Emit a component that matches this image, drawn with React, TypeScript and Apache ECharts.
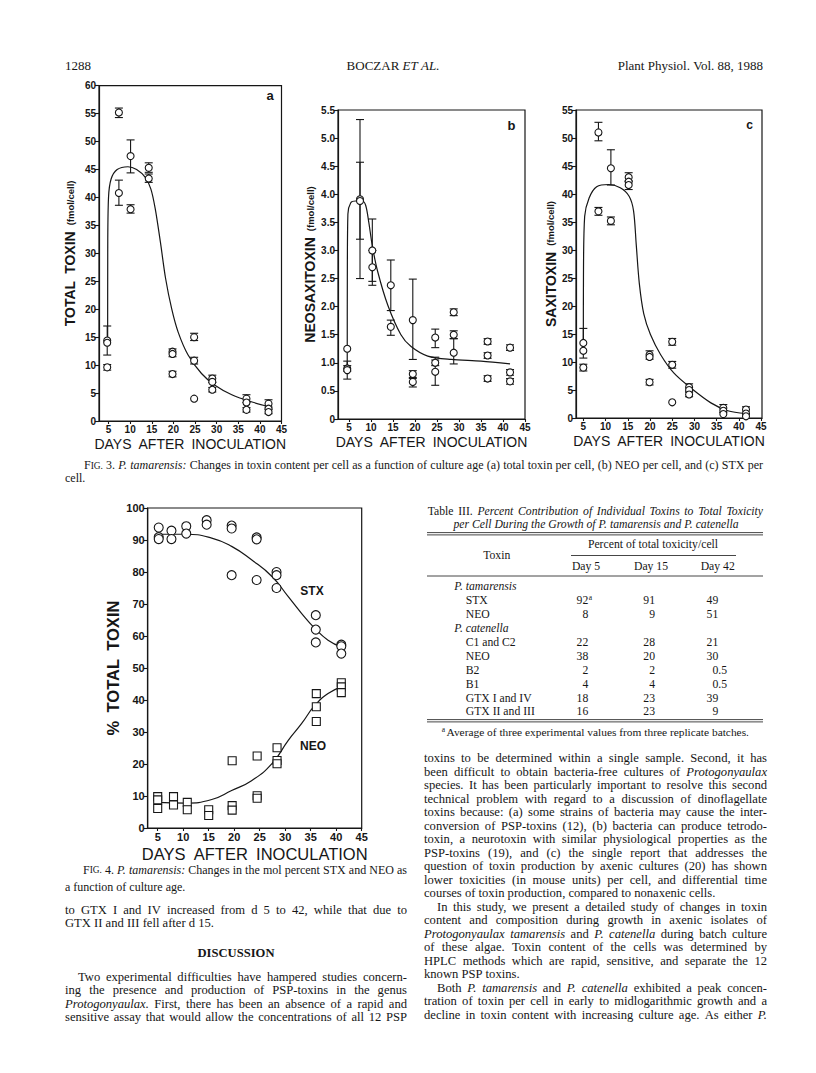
import React, { useEffect, useRef } from "react";
import * as echarts from "echarts";

// ---------------- DATA ----------------
const DAY_TICKS = [5, 10, 15, 20, 25, 30, 35, 40, 45];

// Fig. 3a  total toxin (fmol/cell)
const A_POINTS = [
  [4.7, 14.4], [4.7, 14.0], [4.7, 9.6], [7.4, 55.2], [7.4, 40.8], [10.1, 47.4], [10.1, 37.9],
  [14.3, 45.3], [14.3, 43.4], [19.8, 12.4], [19.8, 12.0], [19.8, 8.4], [24.8, 15.0], [24.8, 10.8],
  [24.8, 4.0], [29, 7.6], [29, 7.0], [29, 5.6], [36.9, 4.0], [36.9, 3.3], [36.9, 2.0],
  [42, 3.1], [42, 2.2], [42, 1.6],
];
const A_ERRORS = [
  [4.7, 11.8, 17.0], [4.7, 9.1, 10.1], [7.4, 54.3, 56.0], [7.4, 38.6, 43.1], [10.1, 44.4, 50.3],
  [10.1, 37.2, 38.7], [14.3, 44.5, 46.2], [14.3, 42.7, 44.2], [19.8, 11.5, 12.9], [19.8, 7.9, 8.9],
  [24.8, 14.4, 15.7], [24.8, 10.2, 11.4], [29, 6.9, 8.2], [29, 5.2, 6.0], [36.9, 3.3, 4.7],
  [36.9, 1.6, 2.4], [42, 2.5, 3.8], [42, 1.3, 2.1],
];
const A_CURVE = [
  [4.8, 14], [4.82, 30], [5.0, 40], [5.6, 43.3], [7, 45], [9.5, 45.5], [11.5, 45], [13.5, 43.6],
  [14.8, 41.5], [15.8, 38], [17, 32], [18.2, 25.5], [19.6, 20.1], [21.1, 15.9], [23.4, 11.8],
  [26.5, 8.5], [29.6, 6.4], [33.5, 4.7], [38.2, 3.4], [42.4, 2.5],
];

// Fig. 3b  neosaxitoxin (fmol/cell)
const B_POINTS = [
  [4.6, 1.25], [4.6, 0.9], [4.6, 0.87], [7.5, 3.91], [7.5, 3.88], [10.3, 3.0], [10.3, 2.7],
  [14.5, 2.38], [14.5, 1.64], [19.5, 1.76], [19.5, 0.8], [19.5, 0.66], [24.6, 1.45], [24.6, 1.0],
  [24.6, 0.84], [28.8, 1.9], [28.8, 1.5], [28.8, 1.18], [36.5, 1.38], [36.5, 1.13], [36.5, 0.72],
  [41.6, 1.27], [41.6, 0.83], [41.6, 0.67],
];
const B_ERRORS = [
  [4.6, 0.71, 1.03], [4.6, 0.85, 0.95], [7.5, 2.5, 5.33], [7.5, 3.2, 4.57], [10.3, 2.45, 3.56],
  [10.3, 2.38, 3.0], [14.5, 1.93, 2.83], [14.5, 1.49, 1.76], [19.5, 1.06, 2.49], [19.5, 0.74, 0.86],
  [19.5, 0.57, 0.72], [24.6, 1.27, 1.6], [24.6, 0.6, 1.1], [24.6, 0.95, 1.05], [28.8, 0.98, 1.43],
  [28.8, 1.43, 1.57], [28.8, 1.84, 1.96], [36.5, 1.33, 1.43], [36.5, 1.08, 1.18], [36.5, 0.67, 0.77],
  [41.6, 1.22, 1.32], [41.6, 0.78, 0.88], [41.6, 0.62, 0.72],
];
const B_CURVE = [
  [4.6, 0.95], [4.62, 2.5], [4.75, 3.65], [5.4, 3.85], [6.5, 3.88], [8, 3.88], [8.8, 3.8], [9.5, 3.5],
  [10.3, 3.08], [11.5, 2.63], [13.8, 2.03], [16.8, 1.5], [19.1, 1.29], [22.9, 1.12], [28.2, 1.06],
  [35, 1.03], [41.6, 0.98],
];

// Fig. 3c  saxitoxin (fmol/cell)
const C_POINTS = [
  [5, 13.4], [5, 12.0], [5, 9.0], [8.4, 51.0], [8.4, 36.9], [11.2, 44.6], [11.2, 35.2],
  [15.2, 43.0], [15.2, 42.2], [15.2, 41.6], [19.9, 11.3], [19.9, 10.9], [19.9, 6.4], [25, 13.6],
  [25, 9.5], [25, 2.8], [28.8, 5.5], [28.8, 5.0], [28.8, 4.2], [36.5, 1.8], [36.5, 1.3], [36.5, 0.7],
  [41.6, 1.5], [41.6, 0.8], [41.6, 0.3],
];
const C_ERRORS = [
  [5, 10.7, 16.0], [5, 8.4, 9.6], [8.4, 49.5, 52.8], [8.4, 36.2, 37.6], [11.2, 41.6, 47.9],
  [11.2, 34.5, 35.9], [15.2, 42.3, 43.8], [15.2, 40.8, 42.3], [19.9, 10.5, 12.0], [19.9, 5.9, 6.9],
  [25, 13.0, 14.2], [25, 8.9, 10.1], [28.8, 4.8, 6.1], [28.8, 3.8, 4.6], [36.5, 1.0, 2.4],
  [41.6, 0.6, 2.0],
];
const C_CURVE = [
  [5, 12], [5.03, 25], [5.3, 36], [6.3, 39.3], [8, 41.3], [10.7, 41.7], [13.3, 41.1], [15.3, 39.6],
  [16.3, 37], [16.9, 31], [17.6, 24], [18.6, 18.6], [20.1, 14.9], [22.4, 11.3], [25.4, 8.0],
  [29.2, 5.35], [33.7, 2.7], [37.5, 1.3], [41.6, 0.8],
];

// Fig. 4  % total toxin
const STX_POINTS = [
  [5.2, 93.9], [5.2, 90.9], [5.2, 90.3], [7.7, 92.9], [7.7, 90.3], [10.6, 94.3], [10.6, 92.0],
  [14.6, 96.2], [14.6, 94.8], [19.5, 94.5], [19.5, 93.6], [19.5, 79.0], [24.4, 90.8], [24.4, 90.2],
  [24.4, 77.5], [28.3, 80.0], [28.3, 79.0], [28.3, 75.0], [36.0, 66.5], [36.0, 62.0], [36.0, 58.0],
  [41.0, 57.3], [41.0, 56.8], [41.0, 54.5],
];
const NEO_POINTS = [
  [5.0, 9.8], [5.0, 8.8], [5.0, 6.1], [8.1, 9.8], [8.1, 7.2], [10.8, 8.0], [10.8, 5.7],
  [15.0, 5.7], [15.0, 3.9], [19.6, 21.0], [19.6, 7.0], [19.6, 5.6], [24.5, 22.5], [24.5, 10.1],
  [24.5, 9.3], [28.4, 25.1], [28.4, 21.1], [28.4, 20.1], [36.1, 42.0], [36.1, 37.9], [36.1, 33.3],
  [41.0, 45.4], [41.0, 44.1], [41.0, 42.3],
];
const STX_CURVE = [
  [5, 91.8], [10.4, 91.8], [15.6, 90.6], [19.5, 88], [23.4, 83.8], [27.4, 78.6], [30.6, 72.3],
  [33.2, 67.1], [35.8, 62.4], [38.4, 58.7], [41, 56.6],
];
const NEO_CURVE = [
  [5, 8], [10.4, 7.8], [15.6, 8.9], [19.5, 11.7], [23.4, 14.8], [27.4, 20.1], [30.6, 27.4],
  [33.2, 32.6], [35.8, 38.3], [38.4, 42], [41, 44.1],
];

// Table III
const TABLE_TOXINS = ["STX", "NEO", "C1 and C2", "NEO", "B2", "B1", "GTX I and IV", "GTX II and III"];
const TABLE_DAY5 = ["92", "8", "22", "38", "2", "4", "18", "16"];
const TABLE_DAY15 = ["91", "9", "28", "20", "2", "4", "23", "23"];
const TABLE_DAY42 = ["49", "51", "21", "30", "0.5", "0.5", "39", "9"];

// Text ( _ = italic, § = small caps, > = indent, ¶ = last line of paragraph )
const FIG3_CAPTION = [
  "§FIG. 3. _P. _tamarensis: Changes in toxin content per cell as a function of culture age (a) total toxin per cell, (b) NEO per cell, and (c) STX per",
  "cell.¶",
];
const FIG4_CAPTION = [
  "§FIG. 4. _P. _tamarensis: Changes in the mol percent STX and NEO as",
  "a function of culture age.¶",
];
const LEFT_TEXT = [
  "to GTX I and IV increased from d 5 to 42, while that due to",
  "GTX II and III fell after d 15.¶",
];
const LEFT_TEXT2 = [
  ">Two experimental difficulties have hampered studies concern-",
  "ing the presence and production of PSP-toxins in the genus",
  "_Protogonyaulax. First, there has been an absence of a rapid and",
  "sensitive assay that would allow the concentrations of all 12 PSP",
];
const RIGHT_TEXT = [
  "toxins to be determined within a single sample. Second, it has",
  "been difficult to obtain bacteria-free cultures of _Protogonyaulax",
  "species. It has been particularly important to resolve this second",
  "technical problem with regard to a discussion of dinoflagellate",
  "toxins because: (a) some strains of bacteria may cause the inter-",
  "conversion of PSP-toxins (12), (b) bacteria can produce tetrodo-",
  "toxin, a neurotoxin with similar physiological properties as the",
  "PSP-toxins (19), and (c) the single report that addresses the",
  "question of toxin production by axenic cultures (20) has shown",
  "lower toxicities (in mouse units) per cell, and differential time",
  "courses of toxin production, compared to nonaxenic cells.¶",
  ">In this study, we present a detailed study of changes in toxin",
  "content and composition during growth in axenic isolates of",
  "_Protogonyaulax _tamarensis and _P. _catenella during batch culture",
  "of these algae. Toxin content of the cells was determined by",
  "HPLC methods which are rapid, sensitive, and separate the 12",
  "known PSP toxins.¶",
  ">Both _P. _tamarensis and _P. _catenella exhibited a peak concen-",
  "tration of toxin per cell in early to midlogarithmic growth and a",
  "decline in toxin content with increasing culture age. As either _P.",
];

// ---------------- HELPERS ----------------
const SERIF = "Liberation Serif";
const SANS = "Liberation Sans";
const INK = "#161616";

let _ctx: CanvasRenderingContext2D | null = null;
function measure(text: string, size: number, italic = false, bold = false, family = SERIF): number {
  if (!_ctx) _ctx = document.createElement("canvas").getContext("2d");
  if (!_ctx) return text.length * size * 0.45;
  _ctx.font = `${italic ? "italic " : ""}${bold ? "bold " : ""}${size}px "${family}"`;
  return _ctx.measureText(text).width;
}

type Run = { t: string; s: number; i?: boolean; b?: boolean; dy?: number };

function tokRuns(tok: string, size: number): Run[] {
  if (tok[0] === "§") {
    const w = tok.slice(1);
    return [{ t: w[0], s: size }, { t: w.slice(1), s: size * 0.78, dy: size * 0.08 }];
  }
  if (tok[0] === "_") return [{ t: tok.slice(1), s: size, i: true }];
  if (tok[0] === "*") return [{ t: tok.slice(1), s: size, b: true }];
  return [{ t: tok, s: size }];
}

function textEl(t: string, x: number, y: number, size: number, italic = false, bold = false, family = SERIF, align = "left") {
  return {
    type: "text",
    x,
    y,
    silent: true,
    style: {
      text: t,
      fill: INK,
      fontSize: size,
      fontFamily: family,
      fontStyle: italic ? "italic" : "normal",
      fontWeight: bold ? "bold" : "normal",
      align,
      verticalAlign: "middle",
      textAlign: align,
      textVerticalAlign: "middle",
    },
  };
}

function layoutLine(els: any[], line: string, x: number, y: number, width: number, size: number, mode: string) {
  const toks = line.split(" ").filter(Boolean);
  const words = toks.map((t) => tokRuns(t, size));
  const widths = words.map((rs) => rs.reduce((s, r) => s + measure(r.t, r.s, r.i, r.b), 0));
  const sum = widths.reduce((a, b) => a + b, 0);
  const sp = measure(" ", size);
  let gap = sp;
  if (mode === "j" && toks.length > 1) gap = Math.max(sp * 0.5, (width - sum) / (toks.length - 1));
  const total = sum + gap * (toks.length - 1);
  let cx = mode === "c" ? x - total / 2 : mode === "r" ? x - total : x;
  words.forEach((rs, k) => {
    let rx = cx;
    rs.forEach((r) => {
      els.push(textEl(r.t, rx, y + (r.dy || 0), r.s, r.i, r.b));
      rx += measure(r.t, r.s, r.i, r.b);
    });
    cx += widths[k] + gap;
  });
}

function paragraph(els: any[], lines: string[], x: number, y0: number, step: number, width: number, size: number, indent: number) {
  lines.forEach((raw, k) => {
    let line = raw;
    let ix = 0;
    let mode = "j";
    if (line.startsWith(">")) {
      line = line.slice(1);
      ix = indent;
    }
    if (line.endsWith("¶")) {
      line = line.slice(0, -1);
      mode = "l";
    }
    layoutLine(els, line, x + ix, y0 + k * step, width - ix, size, mode);
  });
}

function hline(x1: number, x2: number, y: number, w = 0.9) {
  return { type: "line", silent: true, shape: { x1, y1: y, x2, y2: y }, style: { stroke: INK, lineWidth: w } };
}

function buildGraphics(): any[] {
  const els: any[] = [];
  // running header
  els.push(textEl("1288", 65, 65, 13));
  layoutLine(els, "BOCZAR _ET _AL.", 393, 65, 0, 13, "c");
  layoutLine(els, "Plant Physiol. Vol. 88, 1988", 763, 65, 0, 13, "r");

  // panel letters & curve labels
  els.push(textEl("a", 270, 95, 13, false, true, SANS, "center"));
  els.push(textEl("b", 511.5, 125, 13, false, true, SANS, "center"));
  els.push(textEl("c", 749.5, 125, 12, false, true, SANS, "center"));
  els.push(textEl("STX", 312, 591, 12, false, true, SANS, "center"));
  els.push(textEl("NEO", 313, 746, 12, false, true, SANS, "center"));

  // captions
  const cfs = 12;
  layoutLine(els, FIG3_CAPTION[0], 84, 465, 763 - 84, cfs, "j");
  layoutLine(els, FIG3_CAPTION[1].replace("¶", ""), 65, 477.5, 0, cfs, "l");
  layoutLine(els, FIG4_CAPTION[0], 83, 869.5, 407 - 83, cfs, "j");
  layoutLine(els, FIG4_CAPTION[1].replace("¶", ""), 65, 886.5, 0, cfs, "l");

  // left column text
  paragraph(els, LEFT_TEXT, 65, 910, 13.4, 342, 12.6, 13);
  els.push(textEl("DISCUSSION", 236, 953.3, 12.6, false, true, SERIF, "center"));
  paragraph(els, LEFT_TEXT2, 65, 976.7, 13.4, 342, 12.6, 13);

  // right column text
  paragraph(els, RIGHT_TEXT, 424, 758, 13.5, 343, 12.6, 13);

  // Table III
  const tfs = 11.7;
  layoutLine(els, "Table III. _Percent _Contribution _of _Individual _Toxins _to _Total _Toxicity", 427.7, 511.7, 335.3, tfs, "j");
  layoutLine(els, "_per _Cell _During _the _Growth _of _P. _tamarensis _and _P. _catenella", 596, 524.5, 0, tfs, "c");
  els.push(hline(427, 763, 532.6, 0.8));
  els.push(hline(427, 763, 534.9, 0.8));
  layoutLine(els, "Percent of total toxicity/cell", 653, 544.3, 0, tfs, "c");
  els.push(hline(571, 736, 555.5, 0.8));
  layoutLine(els, "Toxin", 496.7, 555, 0, tfs, "c");
  layoutLine(els, "Day 5", 586, 566.7, 0, tfs, "c");
  layoutLine(els, "Day 15", 651, 566.7, 0, tfs, "c");
  layoutLine(els, "Day 42", 717.7, 566.7, 0, tfs, "c");
  els.push(hline(427, 763, 576, 0.8));
  layoutLine(els, "_P. _tamarensis", 454.3, 586.7, 0, tfs, "l");
  layoutLine(els, "_P. _catenella", 454.3, 628.3, 0, tfs, "l");
  const rowY = [600, 614.3, 642.7, 656.7, 670.7, 684.3, 698.3, 711.7];
  const colR = [588.3, 655, 718.3];
  TABLE_TOXINS.forEach((name, k) => {
    layoutLine(els, name, 465.7, rowY[k], 0, tfs, "l");
    [TABLE_DAY5[k], TABLE_DAY15[k], TABLE_DAY42[k]].forEach((v, c) => {
      const intPart = v.split(".")[0];
      const x = colR[c] - measure(intPart, tfs);
      els.push(textEl(v, x, rowY[k], tfs));
    });
  });
  els.push(textEl("a", 588.8, 597, 7.5));
  els.push(hline(427, 763, 719.6, 0.8));
  els.push(hline(427, 763, 721.9, 0.8));
  els.push(textEl("a", 441.7, 729, 7.5));
  layoutLine(els, "Average of three experimental values from three replicate batches.", 446.5, 731.7, 0, 11.4, "l");
  return els;
}

// ---------------- CHART PIECES ----------------
const axisFont = { fontFamily: SANS, fontWeight: "bold" as const, color: INK };

function xAxis(grid: number, min: number, max: number, size: number, gap: number, nameSize: number) {
  return {
    type: "value",
    gridIndex: grid,
    min,
    max,
    name: "DAYS\u2002AFTER\u2002INOCULATION",
    nameLocation: "middle",
    nameGap: gap,
    nameTextStyle: { fontFamily: SANS, fontSize: nameSize, color: INK },
    axisLine: { onZero: false, lineStyle: { color: INK, width: 1.2 } },
    axisTick: { customValues: DAY_TICKS, length: 3, lineStyle: { color: INK, width: 1.1 } },
    axisLabel: { customValues: DAY_TICKS, margin: 3, fontSize: size, ...axisFont },
    splitLine: { show: false },
  };
}

function yAxis(grid: number, max: number, interval: number, size: number, name: string, rich: any, gap: number, fmt?: (v: number) => string) {
  return {
    type: "value",
    gridIndex: grid,
    min: 0,
    max,
    interval,
    name,
    nameLocation: "middle",
    nameGap: gap,
    nameRotate: 90,
    nameTextStyle: { rich },
    axisLine: { onZero: false, lineStyle: { color: INK, width: 1.2 } },
    axisTick: { length: 4, lineStyle: { color: INK, width: 1.1 } },
    axisLabel: { margin: 3, fontSize: size, ...axisFont, formatter: fmt },
    splitLine: { show: false },
  };
}

function errSeries(idx: number, data: number[][]) {
  return {
    type: "custom",
    xAxisIndex: idx,
    yAxisIndex: idx,
    data,
    z: 3,
    silent: true,
    encode: { x: 0, y: [1, 2] },
    renderItem: (_p: any, api: any) => {
      const x = api.value(0);
      const a = api.coord([x, api.value(1)]);
      const b = api.coord([x, api.value(2)]);
      const cw = 4;
      const st = { stroke: INK, lineWidth: 1.1, fill: "none" };
      return {
        type: "group",
        children: [
          { type: "line", shape: { x1: a[0], y1: a[1], x2: b[0], y2: b[1] }, style: st },
          { type: "line", shape: { x1: a[0] - cw, y1: a[1], x2: a[0] + cw, y2: a[1] }, style: st },
          { type: "line", shape: { x1: b[0] - cw, y1: b[1], x2: b[0] + cw, y2: b[1] }, style: st },
        ],
      };
    },
  };
}

function pts(idx: number, data: number[][], symbol: string, size: number) {
  return {
    type: "scatter",
    xAxisIndex: idx,
    yAxisIndex: idx,
    data,
    symbol,
    symbolSize: size,
    silent: true,
    z: 4,
    itemStyle: { color: "#fff", borderColor: INK, borderWidth: 1.1, opacity: 1 },
  };
}

function curve(idx: number, data: number[][], smooth: number) {
  return {
    type: "line",
    xAxisIndex: idx,
    yAxisIndex: idx,
    data,
    showSymbol: false,
    symbol: "none",
    smooth,
    silent: true,
    z: 2,
    lineStyle: { color: INK, width: 1.2 },
  };
}

function buildOption() {
  const grid = (left: number, top: number, width: number, height: number) => ({
    left,
    top,
    width,
    height,
    show: true,
    borderColor: INK,
    borderWidth: 1.2,
    backgroundColor: "transparent",
  });
  const rich = (big: number, small: number) => ({
    m: { fontFamily: SANS, fontWeight: "bold", fontSize: big, color: INK },
    s: { fontFamily: SANS, fontWeight: "bold", fontSize: small, color: INK },
  });
  return {
    animation: false,
    backgroundColor: "#fff",
    grid: [
      grid(99, 85.7, 182.5, 335.3),
      grid(338, 110, 187, 309),
      grid(576, 110, 186, 308),
      grid(147.7, 508, 214, 320),
    ],
    xAxis: [
      xAxis(0, 2.8, 45, 10, 16, 14),
      xAxis(1, 2.5, 45, 10, 16, 14),
      xAxis(2, 3.35, 45.2, 10, 16, 14),
      xAxis(3, 3.04, 45, 11, 17, 16.5),
    ],
    yAxis: [
      yAxis(0, 60, 5, 10, "{m|TOTAL\u2002TOXIN}\u2002{s|(fmol/cell)}", rich(14, 9.5), 22),
      yAxis(1, 5.5, 0.5, 10, "{m|NEOSAXITOXIN}\u2002{s|(fmol/cell)}", rich(14, 9.5), 16, (v: number) => (v === 0 ? "0" : v.toFixed(1))),
      yAxis(2, 55, 5, 10, "{m|SAXITOXIN}\u2002{s|(fmol/cell)}", rich(14, 9.5), 18),
      yAxis(3, 100, 10, 11, "{m|%\u2002TOTAL\u2002TOXIN}", rich(16.5, 10), 26),
    ],
    series: [
      curve(0, A_CURVE, 0.3), errSeries(0, A_ERRORS), pts(0, A_POINTS, "circle", 7),
      curve(1, B_CURVE, 0.3), errSeries(1, B_ERRORS), pts(1, B_POINTS, "circle", 7),
      curve(2, C_CURVE, 0.3), errSeries(2, C_ERRORS), pts(2, C_POINTS, "circle", 7),
      curve(3, STX_CURVE, 0.5), curve(3, NEO_CURVE, 0.5),
      pts(3, STX_POINTS, "circle", 9), pts(3, NEO_POINTS, "rect", 8),
    ],
    graphic: { elements: buildGraphics() },
  };
}

export default function App() {
  const ref = useRef<HTMLDivElement>(null);
  useEffect(() => {
    if (!ref.current) return;
    const chart = echarts.init(ref.current, null, { renderer: "svg" });
    chart.setOption(buildOption() as any);
    return () => chart.dispose();
  }, []);
  return (
    <div
      ref={ref}
      style={{ position: "absolute", left: 0, top: 0, width: 816, height: 1073, background: "#fff" }}
    />
  );
}
